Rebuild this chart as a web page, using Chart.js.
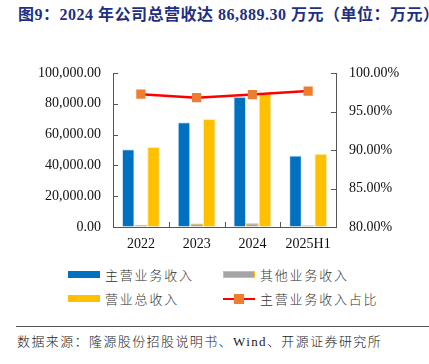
<!DOCTYPE html>
<html lang="zh">
<head>
<meta charset="UTF-8">
<title>图9</title>
<script src="https://cdn.jsdelivr.net/npm/chart.js"></script>
<style>
    body {
        margin: 0;
        width: 429px;
        height: 364px;
        background: #fff;
        position: relative;
        overflow: hidden;
        font-family: "Liberation Serif", "Noto Sans CJK SC", serif;
    }
    .title {
        position: absolute;
        left: 18px;
        top: 1px;
        font-size: 16px;
        font-weight: bold;
        letter-spacing: 0.5px;
        color: #1F2F7F;
        white-space: nowrap;
    }
    .chart-box {
        position: absolute;
        left: 0;
        top: 40px;
        width: 429px;
        height: 215px;
    }
    .legend {
        position: absolute;
        left: 0;
        top: 265px;
        width: 429px;
        font-size: 13px;
        color: #333;
        font-weight: 300;
    }
    .legend-item {
        position: absolute;
        display: flex;
        align-items: center;
        white-space: nowrap;
        letter-spacing: 1.8px;
    }
    .legend-item .swatch {
        width: 32px;
        height: 7px;
        margin-right: 5px;
        box-sizing: border-box;
        position: relative;
    }
    .rule {
        position: absolute;
        left: 16px;
        right: 0;
        top: 326px;
        border-top: 1px solid #555;
    }
    .source {
        position: absolute;
        left: 17px;
        top: 331px;
        font-size: 13px;
        font-weight: 300;
        letter-spacing: 1.4px;
        color: #222;
        white-space: nowrap;
    }
</style>
</head>
<body>
<div class="title">图9：2024 年公司总营收达 86,889.30 万元（单位：万元）</div>
<div class="chart-box"><canvas id="revChart" width="429" height="215"></canvas></div>
<div class="legend" id="legend"></div>
<div class="rule"></div>
<div class="source">数据来源：隆源股份招股说明书、Wind、开源证券研究所</div>

<script>
    const years = ['2022', '2023', '2024', '2025H1'];
    const mainRevenue = [50450, 68000, 84600, 46500];
    const otherRevenue = [1500, 2300, 2450, 1150];
    const totalRevenue = [51900, 70100, 86889.30, 47600];
    const mainShare = [97.25, 96.8, 97.2, 97.65];

    const leftTicks = [0, 20000, 40000, 60000, 80000, 100000];
    const rightTicks = [80, 85, 90, 95, 100];

    const serif = '"Liberation Serif", "Times New Roman", serif';

    // short tick marks pointing into the plot, like the original
    const innerTicks = {
        id: 'innerTicks',
        afterDraw(chart) {
            const ctx = chart.ctx;
            ctx.save();
            ctx.strokeStyle = '#555';
            ctx.lineWidth = 1;
            const yl = chart.scales.y;
            yl.ticks.forEach((t, i) => {
                const y = Math.round(yl.getPixelForTick(i)) + 0.5;
                ctx.beginPath();
                ctx.moveTo(yl.right, y);
                ctx.lineTo(yl.right + 5, y);
                ctx.stroke();
            });
            const yr = chart.scales.y1;
            yr.ticks.forEach((t, i) => {
                const y = Math.round(yr.getPixelForTick(i)) + 0.5;
                ctx.beginPath();
                ctx.moveTo(yr.left - 5, y);
                ctx.lineTo(yr.left, y);
                ctx.stroke();
            });
            // category boundaries on the x axis
            const xs = chart.scales.x;
            for (let i = 0; i < years.length - 1; i++) {
                const x = Math.round((xs.getPixelForTick(i) + xs.getPixelForTick(i + 1)) / 2) + 0.5;
                ctx.beginPath();
                ctx.moveTo(x, xs.top);
                ctx.lineTo(x, xs.top - 5);
                ctx.stroke();
            }
            ctx.restore();
        }
    };

    const ctx = document.getElementById('revChart').getContext('2d');
    const chart = new Chart(ctx, {
        data: {
            labels: years,
            datasets: [{
                type: 'line',
                label: '主营业务收入占比',
                data: mainShare,
                yAxisID: 'y1',
                borderColor: '#FF0000',
                borderWidth: 2.5,
                pointStyle: 'rect',
                pointRadius: 6.5,
                pointBackgroundColor: '#ED7D31',
                pointBorderColor: '#ED7D31',
                pointBorderWidth: 0,
                tension: 0,
                order: 0
            }, {
                type: 'bar',
                label: '主营业务收入',
                data: mainRevenue,
                yAxisID: 'y',
                backgroundColor: '#0070C0',
                borderColor: 'rgba(200,225,245,0.8)',
                borderWidth: 1,
                order: 1
            }, {
                type: 'bar',
                label: '其他业务收入',
                data: otherRevenue,
                yAxisID: 'y',
                backgroundColor: '#A5A5A5',
                borderColor: '#FFC000',
                borderWidth: 1,
                order: 1
            }, {
                type: 'bar',
                label: '营业总收入',
                data: totalRevenue,
                yAxisID: 'y',
                backgroundColor: '#FFC000',
                borderColor: 'rgba(255,230,160,0.8)',
                borderWidth: 1,
                order: 1
            }]
        },
        options: {
            responsive: false,
            animation: false,
            layout: { padding: { top: 33, left: 0, right: 0, bottom: 0 } },
            datasets: {
                bar: { categoryPercentage: 0.68, barPercentage: 1.0 }
            },
            plugins: {
                legend: { display: false },
                tooltip: { enabled: false }
            },
            scales: {
                x: {
                    grid: { display: true, drawOnChartArea: false, drawTicks: false },
                    border: { display: true, color: '#555' },
                    ticks: {
                        color: '#111',
                        padding: 9,
                        font: { family: serif, size: 14 }
                    },
                    afterFit(scale) { scale.height = 28; }
                },
                y: {
                    position: 'left',
                    min: 0,
                    max: 100000,
                    afterBuildTicks(scale) { scale.ticks = leftTicks.map(v => ({ value: v })); },
                    grid: { display: true, drawOnChartArea: false, drawTicks: false },
                    border: { display: true, color: '#555' },
                    ticks: {
                        color: '#111',
                        padding: 12,
                        font: { family: serif, size: 14 },
                        callback: v => v.toLocaleString('en-US', { minimumFractionDigits: 2, maximumFractionDigits: 2 })
                    },
                    afterFit(scale) { scale.width = 113; }
                },
                y1: {
                    position: 'right',
                    min: 80,
                    max: 100,
                    afterBuildTicks(scale) { scale.ticks = rightTicks.map(v => ({ value: v })); },
                    grid: { display: true, drawOnChartArea: false, drawTicks: false },
                    border: { display: true, color: '#555' },
                    ticks: {
                        color: '#111',
                        padding: 13,
                        font: { family: serif, size: 14 },
                        callback: v => v.toFixed(2) + '%'
                    },
                    afterFit(scale) { scale.width = 93; }
                }
            }
        },
        plugins: [innerTicks]
    });

    // legend in two fixed columns, taken from the datasets
    const legendPos = {
        '主营业务收入': [68, 0],
        '其他业务收入': [223, 0],
        '营业总收入': [68, 24],
        '主营业务收入占比': [223, 24]
    };
    const legendEl = document.getElementById('legend');
    chart.data.datasets.forEach(ds => {
        const pos = legendPos[ds.label];
        const item = document.createElement('div');
        item.className = 'legend-item';
        item.style.left = pos[0] + 'px';
        item.style.top = pos[1] + 'px';
        const sw = document.createElement('span');
        sw.className = 'swatch';
        if (ds.type === 'line') {
            sw.style.height = '10px';
            sw.innerHTML = '<span style="position:absolute;left:0;right:0;top:4px;height:2.5px;background:' + ds.borderColor + '"></span>' +
                '<span style="position:absolute;left:11px;top:0;width:10px;height:10px;background:' + ds.pointBackgroundColor + '"></span>';
        } else {
            sw.style.background = ds.backgroundColor;
            if (ds.label === '其他业务收入') sw.style.border = '1px solid ' + ds.borderColor;
        }
        const txt = document.createElement('span');
        txt.textContent = ds.label;
        item.appendChild(sw);
        item.appendChild(txt);
        legendEl.appendChild(item);
    });
</script>
</body>
</html>
